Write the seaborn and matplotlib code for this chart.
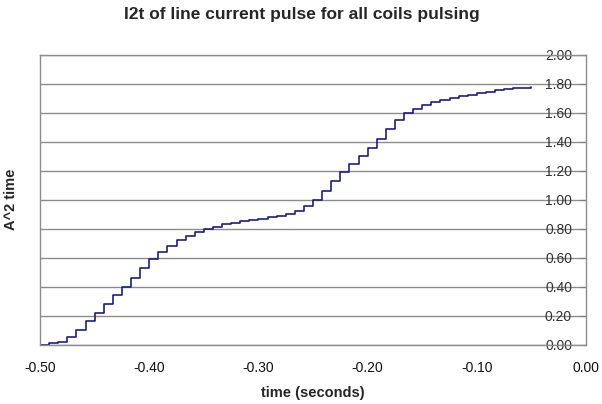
import numpy as np
import pandas as pd
import matplotlib
matplotlib.use("Agg")
import matplotlib.pyplot as plt
import seaborn as sns

# step times (half cycles of 60 Hz) and cumulative I2t
time_s = [-0.5 + k / 120 for k in range(55)]
i2t = [0.00, 0.01, 0.02, 0.05, 0.10, 0.16, 0.22, 0.28, 0.34, 0.40,
       0.46, 0.53, 0.59, 0.64, 0.68, 0.72, 0.75, 0.78, 0.80, 0.815,
       0.83, 0.84, 0.85, 0.86, 0.87, 0.88, 0.89, 0.90, 0.92, 0.96,
       1.00, 1.06, 1.13, 1.19, 1.25, 1.30, 1.36, 1.42, 1.49, 1.55,
       1.60, 1.63, 1.655, 1.675, 1.69, 1.705, 1.715, 1.725, 1.735, 1.745,
       1.755, 1.765, 1.77, 1.775, 1.78]
x_ticks = [-0.50, -0.40, -0.30, -0.20, -0.10, 0.00]
y_ticks = [0.0, 0.2, 0.4, 0.6, 0.8, 1.0, 1.2, 1.4, 1.6, 1.8, 2.0]

df = pd.DataFrame({"time": time_s, "i2t": i2t})

sns.set_style("white")
plt.rcParams['font.family'] = ['Liberation Sans', 'DejaVu Sans']

fig = plt.figure(figsize=(6.02, 4.04), dpi=100)
ax = fig.add_axes([40 / 602, 59.5 / 404, 546 / 602, 289.5 / 404])

sns.lineplot(data=df, x="time", y="i2t", ax=ax, color="#1c1c84",
             linewidth=1.2, drawstyle="steps-post")

ax.set_xlim(-0.5, 0.0)
ax.set_ylim(0, 2.0)
ax.set_xticks(x_ticks)
ax.set_xticklabels([f"{v:.2f}" for v in x_ticks], fontsize=10)
ax.set_yticks(y_ticks)
ax.yaxis.set_ticks_position("right")
ax.set_yticklabels([f"{v:.2f}" for v in y_ticks], fontsize=10)
for tl in ax.get_yticklabels():
    tl.set_ha("right")
ax.tick_params(axis="y", direction="in", length=4, pad=-10, colors="#333333", color="#808080")
ax.tick_params(axis="x", direction="out", length=5, pad=7, colors="#111111", color="#808080")

ax.grid(axis="y", color="#8c8c8c", linewidth=1)
ax.grid(axis="x", visible=False)
for s in ax.spines.values():
    s.set_color("#8c8c8c")
    s.set_linewidth(1)

ax.set_xlabel("time (seconds)", fontsize=10.5, fontweight="bold", labelpad=8)
ax.set_ylabel("")
fig.text(0.018, 0.507, "A^2 time", rotation=90, fontsize=10.5, fontweight="bold",
         ha="center", va="center")
fig.text(0.502, 0.963, "I2t of line current pulse for all coils pulsing",
         fontsize=12.5, fontweight="bold", ha="center", va="center")

fig.savefig("out.png", dpi=100, facecolor="white")
